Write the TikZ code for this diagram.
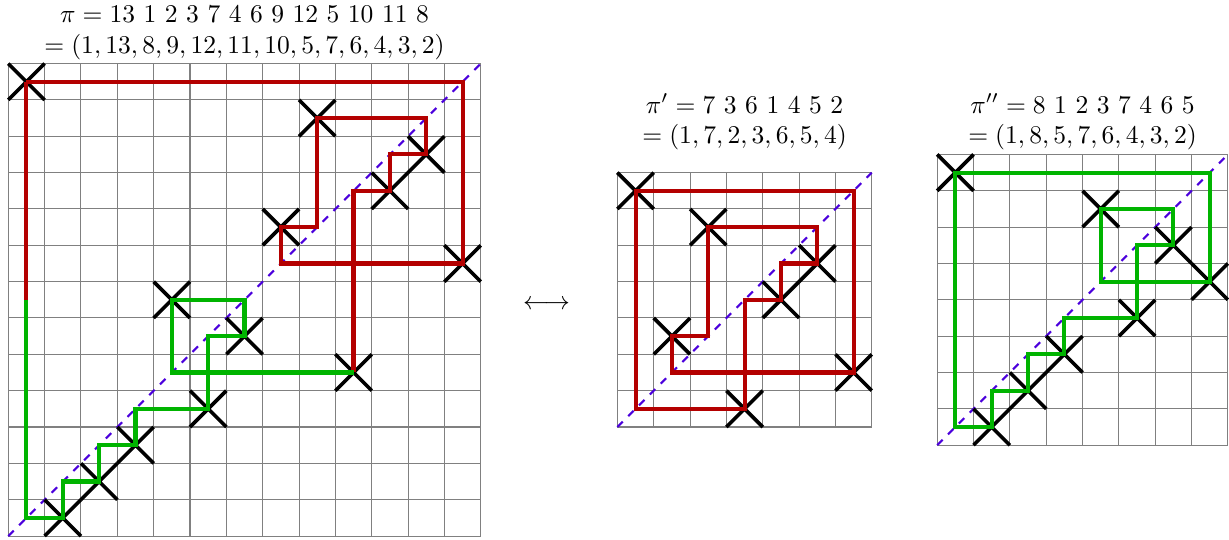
\documentclass[tikz,border=0pt]{standalone}
\usepackage{xcolor}
\usepackage{tikz}
\usetikzlibrary{positioning}
\definecolor{cycRed}{HTML}{B40000}
\definecolor{cycGreen}{HTML}{00B400}
\definecolor{diagBlue}{HTML}{4B00DC}

\begin{document}
\begin{tikzpicture}[x=0.5cm, y=0.5cm,
    gridln/.style={draw=gray, line width=0.4pt},
    diagln/.style={draw=diagBlue, thick, dashed},
    xmark/.style={draw=black, line width=1.4pt},
    redcyc/.style={draw=cycRed, line width=1.6pt},
    greencyc/.style={draw=cycGreen, line width=1.6pt},
    ttl/.style={align=center, anchor=base, inner sep=0pt}]
  \useasboundingbox (-0.228,-0.083) rectangle (33.59,14.75);

  % pi, 13x13
  \begin{scope}
    \foreach \k in {0,...,13} { \draw[gridln] (\k,0) -- (\k,13) (0,\k) -- (13,\k); }
    \draw[diagln] (0,0) -- (13,13);
    \begin{scope}[shift={(-0.5,-0.5)}]
      \foreach \v [count=\i] in {13,1,2,3,7,4,6,9,12,5,10,11,8}
        { \draw[xmark] (\i-0.5,\v-0.5) -- (\i+0.5,\v+0.5) (\i-0.5,\v+0.5) -- (\i+0.5,\v-0.5); }
      \draw[redcyc] (1,13) -- (13,13) -- (13,8) -- (8,8) -- (8,9) -- (9,9) -- (9,12) -- (12,12)
        -- (12,11) -- (11,11) -- (11,10) -- (10,10) -- (10,5);
      \draw[greencyc] (10,5) -- (5,5) -- (5,7) -- (7,7) -- (7,6) -- (6,6) -- (6,4) -- (4,4)
        -- (4,3) -- (3,3) -- (3,2) -- (2,2) -- (2,1) -- (1,1) -- (1,7);
      \draw[redcyc] (1,7) -- (1,13);
    \end{scope}
    \node[ttl] (ttlP) at (6.5,13.28)
      {$\pi = 13\ 1\ 2\ 3\ 7\ 4\ 6\ 9\ 12\ 5\ 10\ 11\ 8$\\$= (1, 13, 8, 9, 12, 11, 10, 5, 7, 6, 4, 3, 2)$};
  \end{scope}

  \node (arr) at (14.81,6.36) {$\longleftrightarrow$};

  % pi', 7x7
  \begin{scope}[shift={(16.76,3)}]
    \foreach \k in {0,...,7} { \draw[gridln] (\k,0) -- (\k,7) (0,\k) -- (7,\k); }
    \draw[diagln] (0,0) -- (7,7);
    \begin{scope}[shift={(-0.5,-0.5)}]
      \foreach \v [count=\i] in {7,3,6,1,4,5,2}
        { \draw[xmark] (\i-0.5,\v-0.5) -- (\i+0.5,\v+0.5) (\i-0.5,\v+0.5) -- (\i+0.5,\v-0.5); }
      \draw[redcyc] (1,7) -- (7,7) -- (7,2) -- (2,2) -- (2,3) -- (3,3) -- (3,6) -- (6,6)
        -- (6,5) -- (5,5) -- (5,4) -- (4,4) -- (4,1) -- (1,1) -- cycle;
    \end{scope}
    \node[ttl] (ttlPp) at (3.5,7.79)
      {$\pi' = 7\ 3\ 6\ 1\ 4\ 5\ 2$\\$= (1, 7, 2, 3, 6, 5, 4)$};
  \end{scope}

  % pi'', 8x8
  \begin{scope}[shift={(25.56,2.5)}]
    \foreach \k in {0,...,8} { \draw[gridln] (\k,0) -- (\k,8) (0,\k) -- (8,\k); }
    \draw[diagln] (0,0) -- (8,8);
    \begin{scope}[shift={(-0.5,-0.5)}]
      \foreach \v [count=\i] in {8,1,2,3,7,4,6,5}
        { \draw[xmark] (\i-0.5,\v-0.5) -- (\i+0.5,\v+0.5) (\i-0.5,\v+0.5) -- (\i+0.5,\v-0.5); }
      \draw[greencyc] (1,8) -- (8,8) -- (8,5) -- (5,5) -- (5,7) -- (7,7) -- (7,6) -- (6,6)
        -- (6,4) -- (4,4) -- (4,3) -- (3,3) -- (3,2) -- (2,2) -- (2,1) -- (1,1) -- cycle;
    \end{scope}
    \node[ttl] (ttlPpp) at (4,8.29)
      {$\pi'' = 8\ 1\ 2\ 3\ 7\ 4\ 6\ 5$\\$= (1, 8, 5, 7, 6, 4, 3, 2)$};
  \end{scope}
\end{tikzpicture}
\end{document}
